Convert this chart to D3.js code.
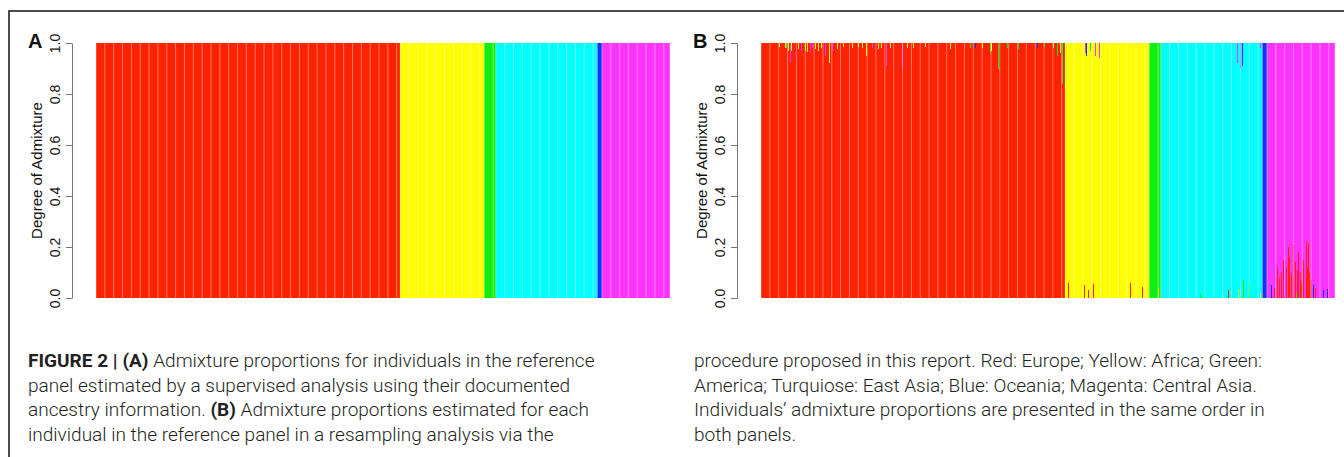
<!DOCTYPE html>
<html>
<head>
<meta charset="utf-8">
<script src="https://cdn.jsdelivr.net/npm/d3@7"></script>
<style>
  body { margin: 0; background: #fff; }
  svg { display: block; }
</style>
</head>
<body>
<svg id="fig"></svg>
<script>
// ancestry clusters, in stacking order (bottom to top)
const clusters = ["Europe", "Africa", "America", "East Asia", "Oceania", "Central Asia"];
const clusterColors = ["#ff2200", "#ffff00", "#11ee11", "#00ffff", "#1133ff", "#ff33ff"];
// number of reference individuals documented in each cluster
const groupSizes = [344, 95, 13, 115, 5, 77];
const yTicks = [0, 0.2, 0.4, 0.6, 0.8, 1.0];

// panel B: non-home ancestry, [individual, cluster, proportion]
const admixB = [
  [20,1,0.015],[27,1,0.02],[28,2,0.02],[31,1,0.03],[33,5,0.075],[34,1,0.03],[38,1,0.02],
  [42,1,0.025],[45,5,0.03],[47,1,0.02],[50,1,0.03],[52,1,0.035],[55,5,0.04],
  [58,5,0.02],[61,1,0.025],[64,5,0.09],[65,1,0.03],[68,1,0.02],[72,5,0.05],[73,1,0.04],
  [77,1,0.08],[80,5,0.03],[86,1,0.025],[93,1,0.015],
  [103,1,0.02],[110,1,0.015],[114,1,0.02],[119,1,0.05],[126,5,0.02],[132,1,0.025],
  [136,1,0.02],[141,5,0.09],[146,1,0.02],[151,2,0.02],
  [159,5,0.1],[160,1,0.12],[165,1,0.02],[172,1,0.02],[185,1,0.015],[203,1,0.015],
  [214,1,0.025],[229,2,0.02],[236,2,0.02],[242,4,0.02],[250,1,0.02],
  [259,2,0.04],[260,1,0.03],[268,2,0.1],[278,2,0.02],[291,2,0.025],[312,4,0.02],
  [320,2,0.015],[330,1,0.02],[335,2,0.05],
  [338,1,0.04],[340,2,0.16],[341,4,0.05],
  [347,0,0.06],[365,0,0.05],[366,5,0.04],[368,4,0.05],[370,0,0.03],[372,2,0.03],
  [375,0,0.055],[378,5,0.05],[382,5,0.06],[417,0,0.06],[431,0,0.045],
  [445,0,0.05],[449,1,0.04],
  [496,2,0.02],[528,0,0.03],[538,5,0.08],[539,1,0.03],[540,4,0.12],[542,5,0.1],
  [544,4,0.09],[545,2,0.07],[552,2,0.06],[558,2,0.02],[564,1,0.02],[564,5,0.02],
  [577,4,0.05],[580,0,0.04],[583,0,0.12],[584,0,0.13],[586,0,0.08],[588,0,0.1],
  [590,0,0.15],[592,0,0.17],[592,3,0.03],[594,0,0.12],[596,0,0.2],[597,0,0.16],
  [599,0,0.09],[602,0,0.21],[604,0,0.14],[605,2,0.02],[606,0,0.11],[607,0,0.18],
  [609,0,0.1],[611,0,0.06],[613,0,0.15],[616,0,0.22],[617,0,0.12],[619,0,0.21],
  [620,0,0.1],[622,0,0.07],[624,4,0.05],[626,0,0.04],[635,4,0.03],[640,4,0.035]
];

const captionLeft = [
  [["FIGURE 2 | (A)", true], [" Admixture proportions for individuals in the reference", false]],
  [["panel estimated by a supervised analysis using their documented", false]],
  [["ancestry information. ", false], ["(B)", true], [" Admixture proportions estimated for each", false]],
  [["individual in the reference panel in a resampling analysis via the", false]]
];
const captionRight = [
  [["procedure proposed in this report. Red: Europe; Yellow: Africa; Green:", false]],
  [["America; Turquiose: East Asia; Blue: Oceania; Magenta: Central Asia.", false]],
  [["Individuals\u2019 admixture proportions are presented in the same order in", false]],
  [["both panels.", false]]
];

const W = 1344, H = 457;
const svg = d3.select("#fig").attr("width", W).attr("height", H);

// figure frame (top and left rules)
svg.append("path")
  .attr("d", "M9,457V11H1344")
  .attr("fill", "none")
  .attr("stroke", "#111")
  .attr("stroke-width", 1.5);

const plotW = 574;
const y = d3.scaleLinear().domain([0, 1]).range([298, 43]);

const N = d3.sum(groupSizes);
const home = [];
groupSizes.forEach((n, k) => { for (let j = 0; j < n; j++) home.push(k); });
const groupStarts = d3.cumsum([0].concat(groupSizes)).slice(0, groupSizes.length);

function buildRows(extra) {
  const rows = home.map((h, i) => {
    const r = { id: i };
    clusters.forEach((c, k) => r[k] = 0);
    return r;
  });
  extra.forEach(([i, k, p]) => rows[i][k] += p);
  rows.forEach((r, i) => {
    let s = 0;
    for (let k = 0; k < clusters.length; k++) if (k !== home[i]) s += r[k];
    r[home[i]] = 1 - s;
  });
  return rows;
}

function drawPanel(left, label, rows) {
  const x = d3.scaleLinear().domain([0, N]).range([left, left + plotW]);
  const layers = d3.stack().keys(d3.range(clusters.length))(rows);
  const g = svg.append("g");

  g.selectAll("g.layer")
    .data(layers)
    .join("g")
      .attr("class", "layer")
      .attr("fill", d => clusterColors[d.key])
    .selectAll("rect")
    .data(d => d.filter(s => s[1] - s[0] > 1e-6))
    .join("rect")
      .attr("x", d => x(d.data.id))
      .attr("width", d => x(d.data.id + 1) - x(d.data.id))
      .attr("y", d => y(d[1]))
      .attr("height", d => y(d[0]) - y(d[1]))
      .attr("shape-rendering", "crispEdges");

  // faint light stripes left by the raster (every 10 individuals)
  const stripes = [];
  groupStarts.forEach((s, k) => {
    for (let j = 0; j < groupSizes[k]; j += 10) stripes.push(s + j);
  });
  stripes.push(N);
  g.selectAll("rect.stripe")
    .data(stripes)
    .join("rect")
      .attr("class", "stripe")
      .attr("x", d => x(d) - 0.5)
      .attr("width", 1)
      .attr("y", y(1))
      .attr("height", y(0) - y(1))
      .attr("fill", "#fff")
      .attr("opacity", 0.4);

  const axisX = left - 24;
  const ax = g.append("g")
    .attr("transform", `translate(${axisX},0)`)
    .call(d3.axisLeft(y).tickValues(yTicks).tickSize(6).tickSizeOuter(0).tickFormat(d3.format(".1f")))
    .attr("font-family", "'Liberation Sans', Arial, sans-serif")
    .attr("font-size", 14);
  ax.select(".domain").attr("stroke", "#777");
  ax.selectAll(".tick line").attr("stroke", "#777");
  ax.selectAll(".tick text")
    .attr("transform", "rotate(-90)")
    .attr("x", 0)
    .attr("y", -12)
    .attr("dy", null)
    .attr("text-anchor", "middle")
    .attr("fill", "#111");

  g.append("text")
    .attr("transform", `translate(${axisX - 30},${(y(0) + y(1)) / 2}) rotate(-90)`)
    .attr("text-anchor", "middle")
    .attr("font-family", "'Liberation Sans', Arial, sans-serif")
    .attr("font-size", 15)
    .attr("fill", "#111")
    .text("Degree of Admixture");

  g.append("text")
    .attr("x", axisX - 44)
    .attr("y", 48)
    .attr("font-family", "'Liberation Sans', Arial, sans-serif")
    .attr("font-weight", "bold")
    .attr("font-size", 20)
    .attr("fill", "#111")
    .text(label);
}

const rowsA = buildRows([]);
const rowsB = buildRows(admixB);
drawPanel(96, "A", rowsA);
drawPanel(761, "B", rowsB);

// caption in two columns; one common horizontal scale so the first line spans the column
const lineY = [367, 392, 416, 441];
const firstLineWidth = 567;
function drawCaption(x0, lines) {
  return lines.map((segs, i) => {
    const t = svg.append("text")
      .attr("font-family", "Roboto, 'Liberation Sans', sans-serif")
      .attr("font-weight", 300)
      .attr("font-size", 19)
      .attr("fill", "#231f20")
      .datum({ x0, y0: lineY[i] });
    segs.forEach(([s, bold]) => {
      t.append("tspan").attr("font-weight", bold ? "bold" : 300).text(s);
    });
    return t;
  });
}
const capTexts = drawCaption(28, captionLeft).concat(drawCaption(694, captionRight));
const sx = firstLineWidth / capTexts[0].node().getComputedTextLength();
capTexts.forEach(t => t.attr("transform", d => `translate(${d.x0},${d.y0}) scale(${sx},1)`));
</script>
</body>
</html>
